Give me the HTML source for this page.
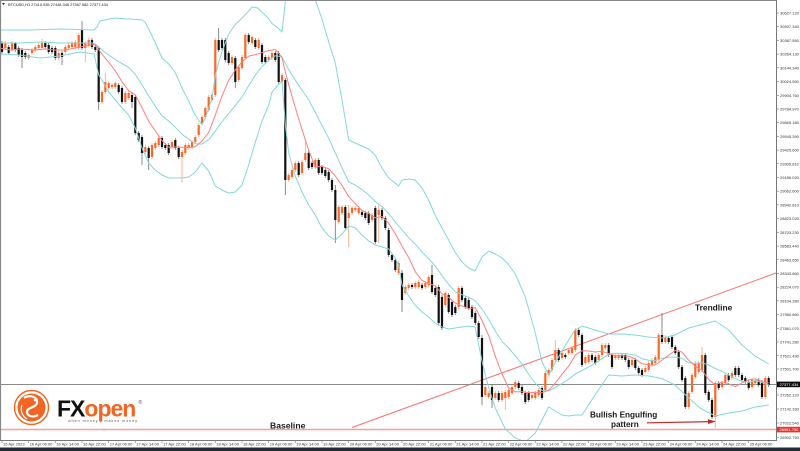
<!DOCTYPE html>
<html><head><meta charset="utf-8">
<style>
html,body{margin:0;padding:0;background:#fff;}
svg{display:block;font-family:"Liberation Sans",Arial,sans-serif;}
</style></head>
<body>
<svg width="800" height="451" viewBox="0 0 800 451" xmlns="http://www.w3.org/2000/svg">
<defs><clipPath id="pc"><rect x="1" y="1" width="775" height="439"/></clipPath></defs>
<rect x="0" y="0" width="800" height="451" fill="#fff"/>

<line x1="1" y1="429.5" x2="776" y2="429.5" stroke="#ff9c9c" stroke-width="1.6"/>
<line x1="352" y1="427.5" x2="776" y2="273" stroke="#ff6e6e" stroke-width="1"/>
<line x1="1" y1="384.5" x2="776" y2="384.5" stroke="#8a8a8a" stroke-width="1"/>

<g clip-path="url(#pc)">
<path fill="none" stroke="#6e6e6e" stroke-width="0.8" d="M2 41V54 M8.7 45V55 M15.3 42V52 M18.7 46V57 M22 48V68 M25.3 51V59 M45.3 41V49 M48.7 43V54 M52 46V54 M55.3 46V60 M62 51V65 M82 21V50 M92 38V49 M95.3 45V52 M98.7 46V110 M118.7 83V94 M122 86V104 M132 92V108 M135.3 95V135 M138.7 131V142 M142 135V165 M148.7 146V170 M162 136V149 M165.3 143V150 M168.7 143V155 M175.3 138V150 M178.7 146V159 M218.7 28V52 M222 38V50 M225.3 38V62 M228.7 51V65 M235.3 56V88 M248.7 33V44 M255.3 38V49 M262 43V64 M265.3 55V64 M275.3 51V62 M278.7 51V84 M285.3 78V195 M298.7 161V177 M308.7 151V170 M312 161V169 M318.7 158V175 M322 165V175 M325.3 168V178 M328.7 170V182 M332 178V192 M335.3 185V243 M345.3 205V230 M362 210V217 M365.3 211V220 M368.7 211V225 M375.3 206V244 M382 208V220 M385.3 216V230 M388.7 228V257 M392 253V262 M395.3 258V272 M402 270V312 M412 283V289 M422 283V290 M432 265V294 M435.3 286V297 M438.7 285V325 M442 295V330 M448.7 293V314 M452 300V317 M455.3 305V315 M462 286V302 M465.3 296V309 M468.7 298V310 M472 305V319 M475.3 311V325 M478.7 321V339 M482 335V405 M492 385V408 M498.7 391V402 M518.7 381V390 M522 385V395 M525.3 391V404 M528.7 391V402 M542 386V400 M558.7 348V362 M565.3 353V359 M578.7 328V337 M582 333V367 M592 353V362 M595.3 355V365 M608.7 343V357 M612 353V369 M622 353V360 M625.3 353V362 M628.7 358V369 M635.3 358V370 M638.7 366V375 M642 368V377 M662 313V344 M668.7 336V344 M672 335V349 M675.3 345V355 M678.7 350V369 M682 365V382 M685.3 376V409 M705.3 353V395 M708.7 390V402 M712 398V419 M718.7 381V390 M728.7 373V382 M735.3 366V377 M738.7 366V377 M742 373V382 M745.3 376V384 M748.7 380V390 M758.7 378V387 M762 380V399 M768.7 376V387"/>
<path fill="none" stroke="#ffa47c" stroke-width="0.8" d="M5.3 41V50 M12 41V52 M28.7 53V60 M32 48V55 M35.3 45V52 M38.7 43V50 M42 39V50 M58.7 51V60 M65.3 45V54 M68.7 43V50 M72 41V49 M75.3 40V49 M78.7 33V50 M85.3 41V62 M88.7 38V47 M102 90V104 M105.3 73V94 M108.7 81V90 M112 83V89 M115.3 81V89 M125.3 91V104 M128.7 91V100 M145.3 145V154 M152 143V159 M155.3 141V150 M158.7 136V147 M172 140V149 M182 150V183 M185.3 143V155 M188.7 143V150 M192 140V149 M195.3 135V144 M198.7 123V137 M202 115V125 M205.3 106V119 M208.7 95V112 M212 93V102 M215.3 38V97 M232 55V65 M238.7 65V82 M242 55V70 M245.3 33V60 M252 35V45 M258.7 38V50 M268.7 55V62 M272 51V60 M282 73V84 M288.7 173V182 M292 168V179 M295.3 161V172 M302 160V175 M305.3 142V162 M315.3 158V169 M338.7 205V224 M342 205V215 M348.7 205V247 M352 206V215 M355.3 206V212 M358.7 206V215 M372 213V222 M378.7 205V243 M398.7 261V275 M405.3 285V295 M408.7 283V290 M415.3 281V289 M418.7 280V289 M425.3 281V289 M428.7 275V287 M445.3 291V307 M458.7 286V309 M485.3 385V397 M488.7 391V399 M495.3 391V400 M502 391V402 M505.3 390V410 M508.7 388V399 M512 385V395 M515.3 380V389 M532 393V400 M535.3 391V400 M538.7 388V397 M545.3 371V392 M548.7 368V377 M552 358V372 M555.3 340V362 M562 351V360 M568.7 348V355 M572 346V355 M575.3 328V352 M585.3 355V365 M588.7 353V364 M598.7 353V362 M602 343V357 M605.3 343V350 M615.3 353V360 M618.7 353V360 M632 358V367 M645.3 366V374 M648.7 361V372 M652 358V367 M655.3 355V365 M658.7 333V362 M665.3 335V344 M688.7 391V409 M692 373V394 M695.3 361V379 M698.7 361V374 M702 347V372 M715.3 381V428 M722 381V389 M725.3 373V385 M732 371V380 M752 378V389 M755.3 378V385 M765.3 376V399"/>
<path fill="#111" d="M0.9 43h2.2v9h-2.2z M7.6 47h2.2v6h-2.2z M14.2 43h2.2v7h-2.2z M17.6 48h2.2v7h-2.2z M20.9 50h2.2v7h-2.2z M24.2 53h2.2v4h-2.2z M44.2 43h2.2v4h-2.2z M47.6 45h2.2v7h-2.2z M50.9 48h2.2v4h-2.2z M54.2 48h2.2v10h-2.2z M60.9 53h2.2v4h-2.2z M80.9 30h2.2v18h-2.2z M90.9 40h2.2v7h-2.2z M94.2 47h2.2v3h-2.2z M97.6 48h2.2v54h-2.2z M117.6 85h2.2v7h-2.2z M120.9 88h2.2v14h-2.2z M130.9 95h2.2v7h-2.2z M134.2 97h2.2v36h-2.2z M137.6 133h2.2v7h-2.2z M140.9 137h2.2v16h-2.2z M147.6 148h2.2v10h-2.2z M160.9 138h2.2v9h-2.2z M164.2 145h2.2v3h-2.2z M167.6 145h2.2v8h-2.2z M174.2 140h2.2v8h-2.2z M177.6 148h2.2v9h-2.2z M217.6 40h2.2v10h-2.2z M220.9 40h2.2v8h-2.2z M224.2 40h2.2v20h-2.2z M227.6 53h2.2v10h-2.2z M234.2 58h2.2v24h-2.2z M247.6 35h2.2v7h-2.2z M254.2 40h2.2v7h-2.2z M260.9 45h2.2v17h-2.2z M264.2 57h2.2v5h-2.2z M274.2 53h2.2v7h-2.2z M277.6 53h2.2v29h-2.2z M284.2 80h2.2v100h-2.2z M297.6 163h2.2v12h-2.2z M307.6 153h2.2v15h-2.2z M310.9 163h2.2v4h-2.2z M317.6 160h2.2v13h-2.2z M320.9 167h2.2v6h-2.2z M324.2 170h2.2v6h-2.2z M327.6 172h2.2v8h-2.2z M330.9 180h2.2v10h-2.2z M334.2 190h2.2v30h-2.2z M344.2 207h2.2v21h-2.2z M360.9 212h2.2v3h-2.2z M364.2 213h2.2v5h-2.2z M367.6 213h2.2v10h-2.2z M374.2 208h2.2v34h-2.2z M380.9 210h2.2v8h-2.2z M384.2 218h2.2v10h-2.2z M387.6 230h2.2v25h-2.2z M390.9 255h2.2v5h-2.2z M394.2 260h2.2v10h-2.2z M400.9 273h2.2v27h-2.2z M410.9 285h2.2v2h-2.2z M420.9 285h2.2v3h-2.2z M430.9 275h2.2v17h-2.2z M434.2 288h2.2v7h-2.2z M437.6 287h2.2v36h-2.2z M440.9 297h2.2v31h-2.2z M447.6 295h2.2v17h-2.2z M450.9 302h2.2v13h-2.2z M454.2 307h2.2v6h-2.2z M460.9 288h2.2v12h-2.2z M464.2 298h2.2v9h-2.2z M467.6 300h2.2v8h-2.2z M470.9 307h2.2v10h-2.2z M474.2 313h2.2v10h-2.2z M477.6 323h2.2v14h-2.2z M480.9 338h2.2v59h-2.2z M490.9 387h2.2v13h-2.2z M497.6 393h2.2v7h-2.2z M517.6 383h2.2v5h-2.2z M520.9 387h2.2v6h-2.2z M524.2 393h2.2v9h-2.2z M527.6 393h2.2v7h-2.2z M540.9 388h2.2v10h-2.2z M557.6 350h2.2v10h-2.2z M564.2 355h2.2v2h-2.2z M577.6 330h2.2v5h-2.2z M580.9 335h2.2v30h-2.2z M590.9 355h2.2v5h-2.2z M594.2 357h2.2v6h-2.2z M607.6 345h2.2v10h-2.2z M610.9 355h2.2v12h-2.2z M620.9 355h2.2v3h-2.2z M624.2 355h2.2v5h-2.2z M627.6 360h2.2v7h-2.2z M634.2 360h2.2v8h-2.2z M637.6 368h2.2v5h-2.2z M640.9 370h2.2v5h-2.2z M660.9 335h2.2v7h-2.2z M667.6 338h2.2v4h-2.2z M670.9 337h2.2v10h-2.2z M674.2 347h2.2v6h-2.2z M677.6 352h2.2v15h-2.2z M680.9 367h2.2v13h-2.2z M684.2 378h2.2v29h-2.2z M704.2 355h2.2v38h-2.2z M707.6 392h2.2v8h-2.2z M710.9 400h2.2v17h-2.2z M717.6 383h2.2v5h-2.2z M727.6 375h2.2v5h-2.2z M734.2 368h2.2v7h-2.2z M737.6 368h2.2v7h-2.2z M740.9 375h2.2v5h-2.2z M744.2 378h2.2v4h-2.2z M747.6 382h2.2v6h-2.2z M757.6 380h2.2v5h-2.2z M760.9 382h2.2v15h-2.2z M767.6 378h2.2v7h-2.2z"/>
<path fill="#ff6524" d="M4.2 43h2.2v5h-2.2z M10.9 43h2.2v7h-2.2z M27.6 55h2.2v3h-2.2z M30.9 50h2.2v3h-2.2z M34.2 47h2.2v3h-2.2z M37.6 45h2.2v3h-2.2z M40.9 43h2.2v5h-2.2z M57.6 53h2.2v5h-2.2z M64.2 47h2.2v5h-2.2z M67.6 45h2.2v3h-2.2z M70.9 43h2.2v4h-2.2z M74.2 42h2.2v5h-2.2z M77.6 35h2.2v13h-2.2z M84.2 43h2.2v5h-2.2z M87.6 40h2.2v5h-2.2z M100.9 92h2.2v10h-2.2z M104.2 82h2.2v10h-2.2z M107.6 83h2.2v5h-2.2z M110.9 85h2.2v2h-2.2z M114.2 83h2.2v4h-2.2z M124.2 93h2.2v9h-2.2z M127.6 93h2.2v5h-2.2z M144.2 147h2.2v5h-2.2z M150.9 145h2.2v12h-2.2z M154.2 143h2.2v5h-2.2z M157.6 138h2.2v7h-2.2z M170.9 142h2.2v5h-2.2z M180.9 152h2.2v5h-2.2z M184.2 145h2.2v8h-2.2z M187.6 145h2.2v3h-2.2z M190.9 142h2.2v5h-2.2z M194.2 137h2.2v5h-2.2z M197.6 125h2.2v10h-2.2z M200.9 117h2.2v6h-2.2z M204.2 108h2.2v9h-2.2z M207.6 97h2.2v13h-2.2z M210.9 95h2.2v5h-2.2z M214.2 40h2.2v55h-2.2z M230.9 57h2.2v6h-2.2z M237.6 67h2.2v13h-2.2z M240.9 57h2.2v11h-2.2z M244.2 35h2.2v23h-2.2z M250.9 37h2.2v6h-2.2z M257.6 40h2.2v8h-2.2z M267.6 57h2.2v3h-2.2z M270.9 53h2.2v5h-2.2z M280.9 75h2.2v7h-2.2z M287.6 175h2.2v5h-2.2z M290.9 170h2.2v7h-2.2z M294.2 163h2.2v7h-2.2z M300.9 162h2.2v11h-2.2z M304.2 153h2.2v7h-2.2z M314.2 160h2.2v7h-2.2z M337.6 207h2.2v15h-2.2z M340.9 207h2.2v6h-2.2z M347.6 213h2.2v5h-2.2z M350.9 208h2.2v5h-2.2z M354.2 208h2.2v2h-2.2z M357.6 208h2.2v5h-2.2z M370.9 215h2.2v5h-2.2z M377.6 210h2.2v5h-2.2z M397.6 263h2.2v10h-2.2z M404.2 287h2.2v6h-2.2z M407.6 285h2.2v3h-2.2z M414.2 283h2.2v4h-2.2z M417.6 282h2.2v5h-2.2z M424.2 283h2.2v4h-2.2z M427.6 277h2.2v8h-2.2z M444.2 293h2.2v12h-2.2z M457.6 288h2.2v19h-2.2z M484.2 387h2.2v8h-2.2z M487.6 393h2.2v4h-2.2z M494.2 393h2.2v5h-2.2z M500.9 393h2.2v7h-2.2z M504.2 392h2.2v6h-2.2z M507.6 390h2.2v7h-2.2z M510.9 387h2.2v6h-2.2z M514.2 382h2.2v5h-2.2z M530.9 395h2.2v3h-2.2z M534.2 393h2.2v5h-2.2z M537.6 390h2.2v5h-2.2z M544.2 373h2.2v17h-2.2z M547.6 370h2.2v5h-2.2z M550.9 360h2.2v10h-2.2z M554.2 350h2.2v10h-2.2z M560.9 353h2.2v5h-2.2z M567.6 350h2.2v3h-2.2z M570.9 348h2.2v5h-2.2z M574.2 330h2.2v20h-2.2z M584.2 357h2.2v6h-2.2z M587.6 355h2.2v7h-2.2z M597.6 355h2.2v5h-2.2z M600.9 345h2.2v10h-2.2z M604.2 345h2.2v3h-2.2z M614.2 355h2.2v3h-2.2z M617.6 355h2.2v3h-2.2z M630.9 360h2.2v5h-2.2z M644.2 368h2.2v4h-2.2z M647.6 363h2.2v7h-2.2z M650.9 360h2.2v5h-2.2z M654.2 357h2.2v6h-2.2z M657.6 335h2.2v25h-2.2z M664.2 337h2.2v5h-2.2z M687.6 393h2.2v14h-2.2z M690.9 375h2.2v17h-2.2z M694.2 363h2.2v14h-2.2z M697.6 363h2.2v9h-2.2z M700.9 355h2.2v15h-2.2z M714.2 383h2.2v34h-2.2z M720.9 383h2.2v4h-2.2z M724.2 375h2.2v8h-2.2z M730.9 373h2.2v5h-2.2z M750.9 380h2.2v7h-2.2z M754.2 380h2.2v3h-2.2z M764.2 378h2.2v19h-2.2z"/>

<g fill="none" stroke="#86d8d8" stroke-width="1" stroke-linejoin="round">
<polyline points="0,30 30,30 60,29 94,30 97,27 100,21 108.7,19 115,18 128.7,19 138,19.5 142,20 145,22 148.7,29 155,42 162,58 168.7,64 175,72 182,88 188.7,101 195,115 202,125 205.3,118 208.7,108 212,98 215.3,76 218.7,62 222,52 228.7,34 235,25 242,18 248.7,11 252,7 258,8 262,12 268,18 272,23.5 278,28 282,32 285.3,2 287,-20 308.7,-20 315.3,0 322,19 328.7,42 335.3,63 342,100 348.7,140 355,143 362,146 368.7,149 375,155 382,168 388.7,178 395,183 398.7,186 402,180 408.7,179 415,180 422,188 428.7,200 435,215 442,228 448.7,240 455,252 462,262 468.7,268 475,271 482,257 488.7,251 495.3,254 502,258 508,264 515.3,274 525.3,297 535.3,333 542,362 548.7,375 555,363 562,351 568.7,340 575,330 582,326 595,330 608.7,334 622,334 635.3,335 648,337 662,338 675,335 688.7,328 700,325 715.3,321 728.7,330 742,345 755,356 768.7,364"/>
<polyline points="0,43 20,43 40,42 60,43 80,43 92,43 95.3,44 98.7,47 102,50 108.7,55 115.3,59.4 122,63.6 128.7,67.4 135.3,74.5 142,84.9 148.7,96 155.3,106.3 162,115.7 168.7,121 175.3,127.3 182,134.3 188.7,139.1 195.3,143.8 202,144.1 208.7,139.7 215.3,131.2 222,121.7 228.7,113.6 235.3,105.5 242,97.2 248.7,85.6 255.3,75.3 262,66.5 268.7,60.3 275.3,55.7 282,56.8 285.3,63.3 288.7,69.7 295.3,80.2 302,90.1 308.7,99.9 315.3,112.4 322,125.5 328.7,138.2 335.3,152.8 342,167.8 348.7,182 355.3,185.1 362,189.6 368.7,194.8 375.3,201.6 382,206.6 388.7,213.5 395.3,222.2 402,229.8 408.7,237.7 415.3,244.2 422,251.9 428.7,258.7 435.3,266 442,275.7 448.7,284.6 455.3,291.8 462,294.7 468.7,297.3 475.3,300.7 482,308.9 488.7,319.4 495.3,331.1 502,341.4 508.7,347.9 515.3,356.1 522,363.8 528.7,374.5 535.3,383.1 542,390.5 548.7,391 555.3,387.5 562,383.5 568.7,379.2 575.3,374 582,370.5 588.7,367.1 595.3,363.1 602,358.7 608.7,354.3 615.3,353.3 622,353.4 628.7,354.1 635.3,355.2 642,358.7 648.7,360.2 655.3,360.5 662,358.2 668.7,357.1 675.3,357.1 682,358.4 688.7,362.7 695.3,363.3 702,362.8 708.7,365 715.3,368.5 722,371.2 728.7,375.1 735.3,378.5 742,381.3 748.7,382.4 755.3,380.4 762,382.6 768.7,384.9"/>
<polyline points="0,54 20,55 40,58 60,56 80,52 94,54 98.7,75 102,80 108.7,92 115.3,100 122,108 128.7,115 135.3,128 142,148 148.7,163 155,170 162,175 168.7,178 175.3,178 182,178 188.7,177 195.3,172 202,163 208.7,171 215.3,186 222,190 228.7,193 235.3,192 242,185 248.7,165 252,153 262,121 268.7,105 272,92 278,85 282,81 285.3,124 288.7,153 295.3,176 302,192 308.7,205 315.3,215 322,228 328.7,236 335.3,240 342,234 348.7,226 355.3,228 362,235 368.7,241 375.3,245 382,247 388.7,249 395.3,258 398.7,266 402,285 408.7,296 415,305 422,312 428.7,317 435,323 442,327 448.7,329 455,328 462,327 468.7,326 475,327 482,361 488.7,388 495.3,408 505.3,429 515.3,438 525.3,442 535.3,433 542,420 548.7,407 555.3,411 562,415 568.7,416 575.3,415 582,415 595,395 608.7,375 622,376 635.3,375 648.7,376 662,378.5 675,385 688.7,398 700,408 715.3,416 728.7,413 742,411 755,407 768.7,405"/>
</g>
<polyline fill="none" stroke="#ff8080" stroke-width="1" stroke-linejoin="round" points="0,48 10,50 20,49 35,50 45,49 55,50 65,50 75,48 85,46 92,45 95.3,44 98.7,49.5 102,54.2 108.7,62.2 115.3,70.7 122,81.8 128.7,90.7 135.3,94.8 142,107.6 148.7,121.3 155.3,130.7 162,140.6 168.7,147.2 175.3,146.9 182,147.3 188.7,147.5 195.3,146.9 202,141 208.7,132.5 215.3,115.1 222,95.9 228.7,80.3 235.3,70 242,61.9 248.7,56.1 255.3,54.7 262,52.6 268.7,50.6 275.3,49.5 282,57.5 285.3,71.8 288.7,84.6 295.3,107.7 302,129.5 308.7,150.3 315.3,167.3 318.7,166.6 322,166.4 328.7,168.7 335.3,176 342,185.3 348.7,196.7 355.3,203.7 362,210.4 368.7,213.5 375.3,217.8 382,216.5 388.7,223.2 395.3,233.9 402,246.1 408.7,257.6 415.3,271.8 422,280.5 428.7,283.5 435.3,285.9 442,293.8 448.7,297.3 455.3,303.1 462,305.9 468.7,308.7 475.3,307.6 482,320.5 488.7,335.7 495.3,356.2 502,374 508.7,388.2 515.3,391.7 522,391.8 528.7,392.7 535.3,392.2 542,392.8 548.7,390.2 555.3,383.1 562,374.2 568.7,366.1 575.3,355.1 582,350.8 588.7,351 595.3,352 602,351.3 608.7,353.5 615.3,355.7 622,355.8 628.7,356.2 635.3,359 642,363.8 648.7,364.7 655.3,365.1 662,360.1 668.7,355.2 675.3,350.4 682,352 688.7,360.3 695.3,366.4 702,370.3 708.7,379.6 715.3,384.9 722,382 728.7,383.7 735.3,386.7 742,382.9 748.7,379.9 755.3,378.8 762,381.5 768.7,383"/>
</g>

<line x1="0.5" y1="0" x2="0.5" y2="440" stroke="#888" stroke-width="1.2"/>
<line x1="0" y1="0.5" x2="776.5" y2="0.5" stroke="#888" stroke-width="1"/>
<line x1="776.5" y1="0" x2="776.5" y2="441" stroke="#777" stroke-width="1"/>
<line x1="0" y1="440.5" x2="776.5" y2="440.5" stroke="#777" stroke-width="1"/>

<polygon points="2,3 5,3 3.5,5.2" fill="#333"/>
<text x="8" y="6.2" font-size="4" fill="#222" textLength="100">BTCUSD,H1  27410.935 27448.346 27367.582 27377.434</text>

<g font-size="4" fill="#333">
<g stroke="#777" stroke-width="0.6">
<line x1="776" y1="13" x2="779" y2="13"/><line x1="776" y1="26.7" x2="779" y2="26.7"/><line x1="776" y1="40.4" x2="779" y2="40.4"/><line x1="776" y1="54.1" x2="779" y2="54.1"/><line x1="776" y1="67.8" x2="779" y2="67.8"/><line x1="776" y1="81.6" x2="779" y2="81.6"/><line x1="776" y1="95.3" x2="779" y2="95.3"/><line x1="776" y1="109" x2="779" y2="109"/><line x1="776" y1="122.7" x2="779" y2="122.7"/><line x1="776" y1="136.4" x2="779" y2="136.4"/><line x1="776" y1="150.1" x2="779" y2="150.1"/><line x1="776" y1="163.8" x2="779" y2="163.8"/><line x1="776" y1="177.5" x2="779" y2="177.5"/><line x1="776" y1="191.2" x2="779" y2="191.2"/><line x1="776" y1="204.9" x2="779" y2="204.9"/><line x1="776" y1="218.7" x2="779" y2="218.7"/><line x1="776" y1="232.4" x2="779" y2="232.4"/><line x1="776" y1="246.1" x2="779" y2="246.1"/><line x1="776" y1="259.8" x2="779" y2="259.8"/><line x1="776" y1="273.5" x2="779" y2="273.5"/><line x1="776" y1="287.2" x2="779" y2="287.2"/><line x1="776" y1="300.9" x2="779" y2="300.9"/><line x1="776" y1="314.6" x2="779" y2="314.6"/><line x1="776" y1="328.3" x2="779" y2="328.3"/><line x1="776" y1="342" x2="779" y2="342"/><line x1="776" y1="355.8" x2="779" y2="355.8"/><line x1="776" y1="369" x2="779" y2="369"/><line x1="776" y1="395" x2="779" y2="395"/><line x1="776" y1="409" x2="779" y2="409"/><line x1="776" y1="423" x2="779" y2="423"/><line x1="776" y1="437.5" x2="779" y2="437.5"/>
</g>
<text x="780" y="14.5">30627.120</text>
<text x="780" y="28.2">30507.340</text>
<text x="780" y="41.9">30387.550</text>
<text x="780" y="55.6">30264.130</text>
<text x="780" y="69.3">30144.340</text>
<text x="780" y="83.1">30024.550</text>
<text x="780" y="96.8">29904.760</text>
<text x="780" y="110.5">29784.970</text>
<text x="780" y="124.2">29665.180</text>
<text x="780" y="137.9">29545.390</text>
<text x="780" y="151.6">29425.600</text>
<text x="780" y="165.3">29305.810</text>
<text x="780" y="179">29186.020</text>
<text x="780" y="192.7">29062.600</text>
<text x="780" y="206.4">28942.810</text>
<text x="780" y="220.2">28823.020</text>
<text x="780" y="233.9">28703.230</text>
<text x="780" y="247.6">28583.440</text>
<text x="780" y="261.3">28463.650</text>
<text x="780" y="275">28343.860</text>
<text x="780" y="288.7">28224.070</text>
<text x="780" y="302.4">28104.280</text>
<text x="780" y="316.1">27980.860</text>
<text x="780" y="329.8">27861.070</text>
<text x="780" y="343.5">27741.280</text>
<text x="780" y="357.3">27621.490</text>
<text x="780" y="370.5">27501.700</text>
<text x="780" y="396.5">27262.120</text>
<text x="780" y="410.5">27142.330</text>
<text x="780" y="424.5">27022.540</text>
<text x="780" y="439">26902.750</text>
</g>
<rect x="777" y="381.6" width="23" height="5.6" fill="#0d0d0d"/>
<text x="779.5" y="386" font-size="4" fill="#fff">27377.434</text>
<rect x="777" y="426.8" width="23" height="5.6" fill="#e8322e"/>
<text x="779.5" y="431.2" font-size="4" fill="#fff">26981.750</text>

<g stroke="#777" stroke-width="0.6">
<line x1="2" y1="440" x2="2" y2="443"/><line x1="28.7" y1="440" x2="28.7" y2="443"/><line x1="55.3" y1="440" x2="55.3" y2="443"/><line x1="82" y1="440" x2="82" y2="443"/><line x1="108.7" y1="440" x2="108.7" y2="443"/><line x1="135.3" y1="440" x2="135.3" y2="443"/><line x1="162" y1="440" x2="162" y2="443"/><line x1="188.7" y1="440" x2="188.7" y2="443"/><line x1="215.3" y1="440" x2="215.3" y2="443"/><line x1="242" y1="440" x2="242" y2="443"/><line x1="268.7" y1="440" x2="268.7" y2="443"/><line x1="295.3" y1="440" x2="295.3" y2="443"/><line x1="322" y1="440" x2="322" y2="443"/><line x1="348.7" y1="440" x2="348.7" y2="443"/><line x1="375.3" y1="440" x2="375.3" y2="443"/><line x1="402" y1="440" x2="402" y2="443"/><line x1="428.7" y1="440" x2="428.7" y2="443"/><line x1="455.3" y1="440" x2="455.3" y2="443"/><line x1="482" y1="440" x2="482" y2="443"/><line x1="508.7" y1="440" x2="508.7" y2="443"/><line x1="535.3" y1="440" x2="535.3" y2="443"/><line x1="562" y1="440" x2="562" y2="443"/><line x1="588.7" y1="440" x2="588.7" y2="443"/><line x1="615.3" y1="440" x2="615.3" y2="443"/><line x1="642" y1="440" x2="642" y2="443"/><line x1="668.7" y1="440" x2="668.7" y2="443"/><line x1="695.3" y1="440" x2="695.3" y2="443"/><line x1="722" y1="440" x2="722" y2="443"/><line x1="748.7" y1="440" x2="748.7" y2="443"/>
</g>
<g font-size="4" fill="#333">
<text x="3" y="445.6">15 Apr 2023</text>
<text x="29.7" y="445.6">16 Apr 06:00</text>
<text x="56.3" y="445.6">16 Apr 14:00</text>
<text x="83" y="445.6">16 Apr 22:00</text>
<text x="109.7" y="445.6">17 Apr 06:00</text>
<text x="136.3" y="445.6">17 Apr 14:00</text>
<text x="163" y="445.6">17 Apr 22:00</text>
<text x="189.7" y="445.6">18 Apr 06:00</text>
<text x="216.3" y="445.6">18 Apr 14:00</text>
<text x="243" y="445.6">18 Apr 22:00</text>
<text x="269.7" y="445.6">19 Apr 06:00</text>
<text x="296.3" y="445.6">19 Apr 14:00</text>
<text x="323" y="445.6">19 Apr 22:00</text>
<text x="349.7" y="445.6">20 Apr 06:00</text>
<text x="376.3" y="445.6">20 Apr 14:00</text>
<text x="403" y="445.6">20 Apr 22:00</text>
<text x="429.7" y="445.6">21 Apr 06:00</text>
<text x="456.3" y="445.6">21 Apr 14:00</text>
<text x="483" y="445.6">21 Apr 22:00</text>
<text x="509.7" y="445.6">22 Apr 06:00</text>
<text x="536.3" y="445.6">22 Apr 14:00</text>
<text x="563" y="445.6">22 Apr 22:00</text>
<text x="589.7" y="445.6">23 Apr 06:00</text>
<text x="616.3" y="445.6">23 Apr 14:00</text>
<text x="643" y="445.6">23 Apr 22:00</text>
<text x="669.7" y="445.6">24 Apr 06:00</text>
<text x="696.3" y="445.6">24 Apr 14:00</text>
<text x="723" y="445.6">24 Apr 22:00</text>
<text x="749.7" y="445.6">25 Apr 06:00</text>
</g>
<rect x="0" y="447.5" width="800" height="3.5" fill="#252a35"/>

<g>
<circle cx="31.5" cy="407.5" r="17" fill="#fff" stroke="#f26522" stroke-width="1.4"/>
<circle cx="31.5" cy="407.5" r="14" fill="#f26522"/>
<path d="M24 398 C30 394 38 397 37 403 C36 408 27 407 27 412 C27 416 33 418 38 415" fill="none" stroke="#fff" stroke-width="2.2"/>
<path d="M22 405 C20 410 22 416 27 419" fill="none" stroke="#fff" stroke-width="1.2"/>
<circle cx="35" cy="400" r="1.3" fill="#fff"/>
</g>
<text x="57" y="416.5" font-size="23" font-weight="bold" letter-spacing="-1"><tspan fill="#111">FX</tspan><tspan fill="#f26522">open</tspan></text>
<text x="138.5" y="404" font-size="5" fill="#555">®</text>
<text x="68" y="422" font-size="3.6" fill="#555" textLength="69">when money  |  makes money</text>

<text x="270" y="428.5" font-size="8.6" font-weight="bold" fill="#1a1a1a">Baseline</text>
<text x="695" y="310.5" font-size="8.4" font-weight="bold" fill="#1a1a1a">Trendline</text>
<text x="590" y="417.5" font-size="8.2" font-weight="bold" fill="#1a1a1a">Bullish Engulfing</text>
<text x="611" y="427" font-size="8.2" font-weight="bold" fill="#1a1a1a">pattern</text>
<line x1="647" y1="422.8" x2="711" y2="421.6" stroke="#c62828" stroke-width="1.2"/>
<polygon points="708,419.2 716,421.5 708,424" fill="#c62828"/>
</svg>
</body></html>
